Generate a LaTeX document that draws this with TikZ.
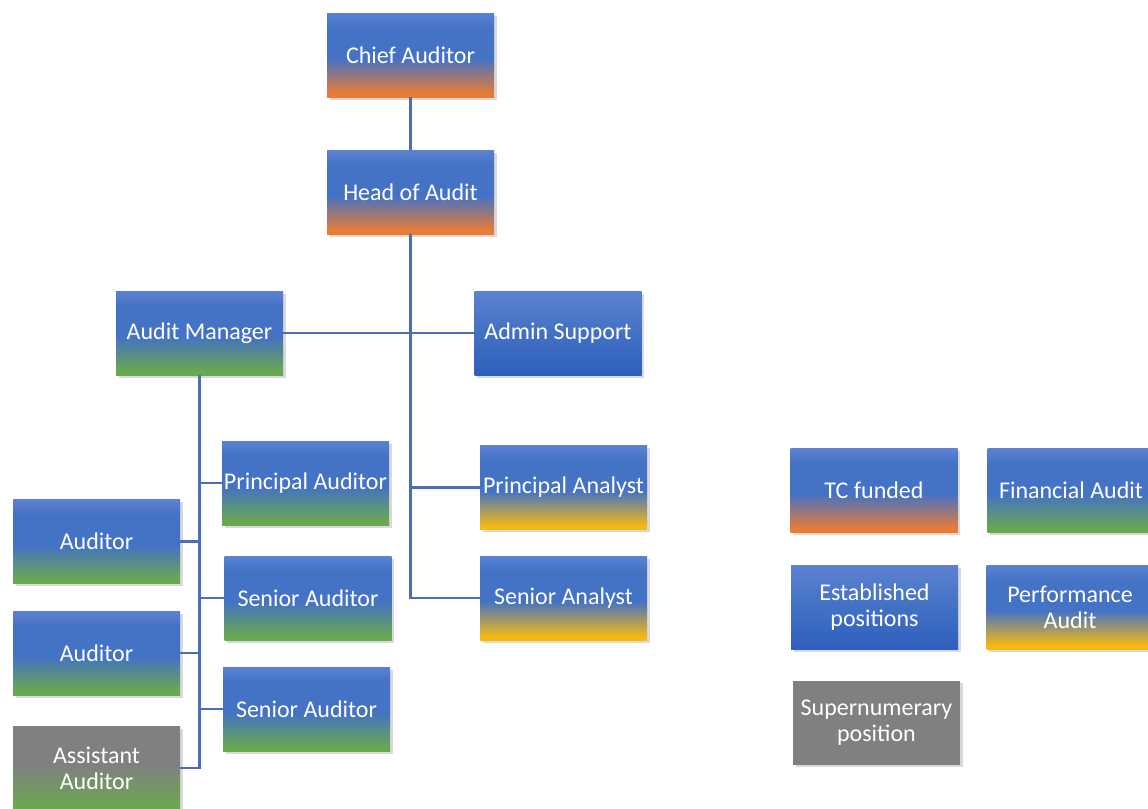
\documentclass[tikz,border=0pt]{standalone}
\usepackage{fontspec}
\setmainfont{Carlito}
\usetikzlibrary{shadows}

\definecolor{bluetop}{HTML}{5C82D2}
\definecolor{bluemid}{HTML}{4472C4}
\definecolor{bluelow}{HTML}{2F5FBF}
\definecolor{tcorange}{HTML}{E97C35}
\definecolor{fagreen}{HTML}{6AA84F}
\definecolor{pagold}{HTML}{F5BA12}
\definecolor{supgray}{HTML}{808080}
\definecolor{linkblue}{HTML}{4A6FB5}

% shadings: 25bp = bottom of box, 75bp = top of box
\pgfdeclareverticalshading{tcshade}{100bp}{color(0bp)=(tcorange); color(27bp)=(tcorange); color(48bp)=(bluemid); color(66bp)=(bluemid); color(75bp)=(bluetop); color(100bp)=(bluetop)}
\pgfdeclareverticalshading{fashade}{100bp}{color(0bp)=(fagreen); color(27bp)=(fagreen); color(48bp)=(bluemid); color(66bp)=(bluemid); color(75bp)=(bluetop); color(100bp)=(bluetop)}
\pgfdeclareverticalshading{pashade}{100bp}{color(0bp)=(pagold); color(27bp)=(pagold); color(48bp)=(bluemid); color(66bp)=(bluemid); color(75bp)=(bluetop); color(100bp)=(bluetop)}
\pgfdeclareverticalshading{estshade}{100bp}{color(0bp)=(bluelow); color(25bp)=(bluelow); color(52bp)=(bluemid); color(75bp)=(bluetop); color(100bp)=(bluetop)}
\pgfdeclareverticalshading{asshade}{100bp}{color(0bp)=(fagreen); color(27bp)=(fagreen); color(52bp)=(supgray); color(100bp)=(supgray)}

\tikzset{
  post/.style={minimum width=83.5pt, minimum height=42pt, inner xsep=0pt,
    text=white, align=center, font=\fontsize{12}{13}\selectfont,
    drop shadow={opacity=0.3, shadow xshift=1.4pt, shadow yshift=-1.4pt}},
  tcpost/.style={post, shade, shading=tcshade},
  finpost/.style={post, shade, shading=fashade},
  perfpost/.style={post, shade, shading=pashade},
  estpost/.style={post, shade, shading=estshade},
  asspost/.style={post, shade, shading=asshade},
  suppost/.style={post, fill=supgray},
  link/.style={draw=linkblue, line width=1.2pt}
}

\begin{document}
\begin{tikzpicture}[x=0.5pt, y=-0.5pt]
\useasboundingbox (0,0) rectangle (1148,809);

\node[tcpost] (chief) at (410.5,55) {Chief Auditor};
\node[tcpost] (head) at (410.5,192) {Head of Audit};
\node[finpost] (mgr) at (199.5,333) {Audit Manager};
\node[estpost] (admin) at (558,333) {Admin Support};
\node[finpost] (prau) at (305.5,483) {Principal Auditor};
\node[perfpost] (pran) at (563.5,487.5) {Principal Analyst};
\node[perfpost] (senan) at (563.5,598) {Senior Analyst};
\node[finpost] (aud1) at (96.5,541.5) {Auditor};
\node[finpost] (seau1) at (308,598) {Senior Auditor};
\node[finpost] (aud2) at (96.5,653) {Auditor};
\node[finpost] (seau2) at (306.5,709) {Senior Auditor};
\node[asspost] (asst) at (96.5,768) {Assistant\\Auditor};

% key
\node[tcpost] (keytc) at (874,490.5) {TC funded};
\node[finpost] (keyfa) at (1071,490.5) {Financial Audit};
\node[estpost] (keyest) at (874.5,607.5) {Established\\positions};
\node[perfpost] (keypa) at (1070,607) {Performance\\Audit};
\node[suppost] (keysup) at (876.5,722.5) {Supernumerary\\position};

% lines
\draw[link] (chief) -- (head);
\draw[link] (head.south) -- (head.south |- senan.west) -- (senan.west);
\draw[link] (mgr.east) -- (admin.west);
\draw[link] (head.south |- pran.west) -- (pran.west);
\draw[link] (mgr.south) -- (mgr.south |- asst.east) -- (asst.east);
\draw[link] (mgr.south |- prau.west) -- (prau.west);
\draw[link] (mgr.south |- aud1.east) -- (aud1.east);
\draw[link] (mgr.south |- seau1.west) -- (seau1.west);
\draw[link] (mgr.south |- aud2.east) -- (aud2.east);
\draw[link] (mgr.south |- seau2.west) -- (seau2.west);
\end{tikzpicture}
\end{document}
